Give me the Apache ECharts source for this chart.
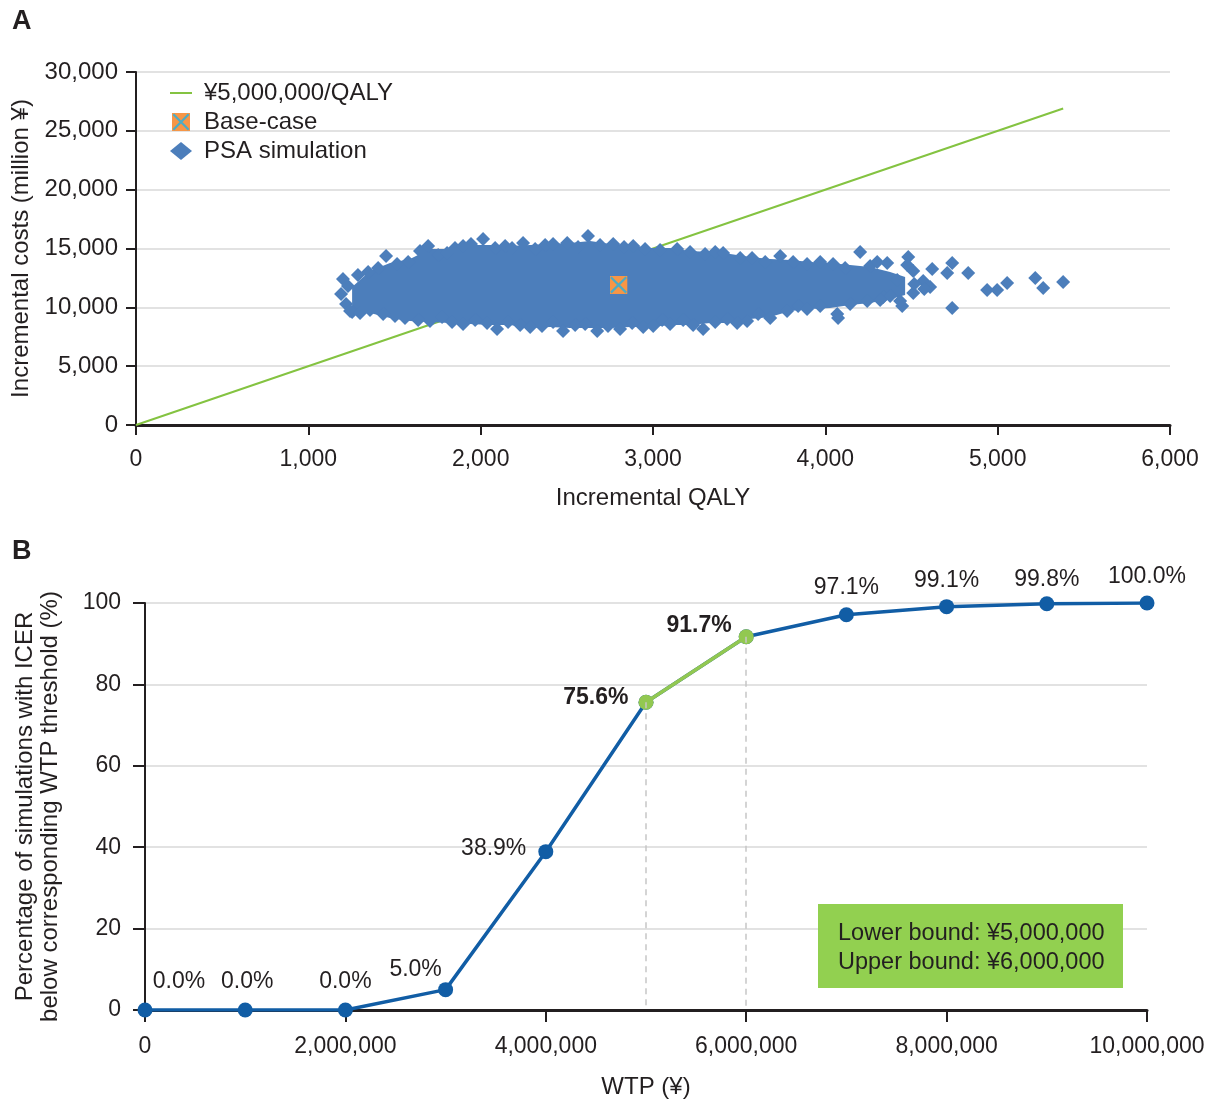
<!DOCTYPE html>
<html>
<head>
<meta charset="utf-8">
<title>PSA scatter and acceptability curve</title>
<script src="https://cdn.jsdelivr.net/npm/echarts@6/dist/echarts.min.js"></script>
<style>
  html, body { margin: 0; padding: 0; background: #fff; }
  #chart { width: 1211px; height: 1100px; }
</style>
</head>
<body>
<div id="chart"></div>
<script>
// ---- panel A data (incremental QALY, incremental cost in million yen) ----
// willingness-to-pay line, y = 5 x QALY
const wtpLine = [[0, 0], [5380, 26900]];
const baseCase = [2800, 11900];
// dense middle of the PSA cloud: lower / upper edge at a few QALY values
const coreQaly = [1254, 1358, 1474, 1590, 1706, 1822, 1939, 2055, 2171, 2287, 2403, 2519, 2635, 2751, 2867,
  2983, 3099, 3215, 3332, 3448, 3564, 3680, 3796, 3912, 4028, 4144, 4260, 4376, 4463];
const coreLow = [9690, 9520, 9100, 8840, 8760, 8670, 8590, 8500, 8500, 8250, 8330, 8250, 8250, 8250, 8330,
  8330, 8500, 8500, 8670, 8670, 9010, 9180, 9690, 9860, 9950, 10200, 10370, 10710, 11050];
const coreHigh = [11720, 13080, 13760, 14100, 14950, 14950, 15290, 15290, 15210, 15290, 15380, 15460, 15630, 15380, 15290,
  15040, 15040, 14780, 14700, 14530, 14270, 14100, 14020, 13850, 13760, 13590, 13420, 13000, 12570];
// simulations along the rim of the cloud and the outliers
const psaTop = [
  [1201, 12410], [1230, 11810], [1190, 11130], [1219, 10280], [1254, 9600],
  [1288, 12750], [1347, 13000], [1405, 13340], [1451, 14360], [1515, 13680], [1579, 13850], [1648, 14790],
  [1695, 15210], [1753, 14450], [1805, 14620], [1851, 15040], [1898, 15210], [1944, 15380], [2014, 15810],
  [2084, 15040], [2142, 15210], [2182, 15040], [2246, 15470], [2316, 14960], [2374, 15300], [2420, 15380],
  [2502, 15470], [2565, 15130], [2623, 16060], [2693, 15300], [2769, 15380], [2832, 15130], [2885, 15210],
  [2954, 14960], [3041, 14870], [3140, 14960], [3215, 14700], [3302, 14530], [3361, 14700], [3407, 14620],
  [3506, 14190], [3575, 14190], [3651, 13850], [3738, 14360], [3813, 13850], [3894, 13680], [3970, 13850],
  [4045, 13680], [4115, 13340], [4202, 14700], [4260, 13510], [4301, 13850], [4359, 13770], [4481, 14280],
  [4475, 13600], [4510, 13090], [4568, 12240], [4620, 13260], [4608, 11730], [4510, 11220], [4446, 10110],
  [4336, 10880], [4074, 9090], [4736, 9940], [4707, 12920], [4736, 13770], [4829, 12920], [4939, 11470],
  [4997, 11470], [5055, 12070], [5218, 12490], [5264, 11640], [5380, 12150], [4516, 11980], [4417, 12320],
  [4574, 11560]
];
const psaBottom = [
  [1242, 9690], [1300, 9520], [1358, 9770], [1434, 9430], [1503, 9260], [1561, 9090], [1637, 8920],
  [1706, 8840], [1776, 9180], [1834, 8750], [1898, 8580], [1968, 8920], [2037, 8670], [2095, 8160],
  [2159, 8750], [2229, 8500], [2287, 8330], [2356, 8410], [2420, 8750], [2478, 7990], [2548, 8500],
  [2606, 8580], [2676, 7990], [2739, 8410], [2809, 8160], [2879, 8670], [2943, 8330], [3001, 8410],
  [3053, 8920], [3099, 8580], [3175, 8920], [3233, 8500], [3291, 8160], [3361, 8750], [3430, 9010],
  [3488, 8670], [3546, 8840], [3610, 9430], [3680, 9090], [3778, 9690], [3842, 10110], [3894, 9860],
  [3970, 10110], [4069, 9430], [4144, 10280], [4243, 10540], [4318, 10620], [4376, 10960], [4434, 10540]
];

// ---- panel B data ----
const wtp = [0, 1000000, 2000000, 3000000, 4000000, 5000000, 6000000, 7000000, 8000000, 9000000, 10000000];
const pctBelow = [0.0, 0.0, 0.0, 5.0, 38.9, 75.6, 91.7, 97.1, 99.1, 99.8, 100.0];
const boundIdx = [5, 6]; // lower / upper bound of the threshold

// label placement for each point of panel B: [position, distance, offset]
const labelPlace = [
  ['top', 9, [34, 0]], ['top', 9, [2, 0]], ['top', 9, [0, 0]], ['top', 9, [-30, 8]],
  ['left', 12, [0, -3]], ['left', 10, [0, -5]], ['left', 7, [0, -11]],
  ['top', 8, [0, 0]], ['top', 7, [0, 0]], ['top', 5, [0, 0]], ['top', 7, [0, 0]]
];

const FONT = '"Liberation Sans", Arial, sans-serif';
const INK = '#231f20';
const BLUE = '#4C7EBB';
const DARKBLUE = '#115DA5';
const LIGHTGREEN = '#92C851';
const GRID = '#e2e2e2';

const baseIcon = 'image://data:image/svg+xml;utf8,' + encodeURIComponent(
  "<svg xmlns='http://www.w3.org/2000/svg' width='20' height='20' viewBox='0 0 20 20'>" +
  "<rect width='20' height='20' fill='#F79646'/>" +
  "<path d='M1.5 1.5L18.5 18.5M18.5 1.5L1.5 18.5' stroke='#4BACC6' stroke-width='2.4'/></svg>");

const thousands = v => v.toLocaleString('en-US');

function xAxisFor(grid, min, max, interval, name, gap, tick, margin) {
  return {
    gridIndex: grid, type: 'value', min: min, max: max, interval: interval,
    axisLine: { show: true, onZero: false, lineStyle: { color: INK, width: 3 } },
    axisTick: { show: true, length: tick, lineStyle: { color: INK, width: 2 } },
    axisLabel: { fontSize: 23, color: INK, fontFamily: FONT, margin: margin, formatter: thousands },
    splitLine: { show: false },
    name: name, nameLocation: 'middle', nameGap: gap,
    nameTextStyle: { fontSize: 24, color: INK, fontFamily: FONT }
  };
}
function yAxisFor(grid, min, max, interval, name, gap, tick, margin, lh, fs) {
  return {
    gridIndex: grid, type: 'value', min: min, max: max, interval: interval,
    axisLine: { show: true, onZero: false, lineStyle: { color: INK, width: 2 } },
    axisTick: { show: true, length: tick, lineStyle: { color: INK, width: 2 } },
    axisLabel: { fontSize: fs, color: INK, fontFamily: FONT, margin: margin, formatter: thousands },
    splitLine: { show: true, lineStyle: { color: GRID, width: 2 } },
    name: name, nameLocation: 'middle', nameGap: gap,
    nameTextStyle: { fontSize: 24, color: INK, fontFamily: FONT, lineHeight: lh }
  };
}

function pointLabel(i, show) {
  const p = labelPlace[i];
  return { show: show, position: p[0], distance: p[1], offset: p[2] };
}

// the solid middle of the cloud, drawn as one polygon through the axis scales
function renderCore(params, api) {
  if (params.dataIndex !== 0) return;
  const upper = coreQaly.map((q, i) => api.coord([q, coreHigh[i]]));
  const lower = coreQaly.map((q, i) => api.coord([q, coreLow[i]])).reverse();
  return {
    type: 'polygon',
    shape: { points: upper.concat(lower) },
    style: { fill: BLUE }
  };
}

const chart = echarts.init(document.getElementById('chart'));
chart.setOption({
  animation: false,
  backgroundColor: '#fff',
  textStyle: { fontFamily: FONT },
  grid: [
    { left: 136, top: 72, right: 41, bottom: 675, outerBoundsMode: 'none' },
    { left: 145, top: 603, right: 64, bottom: 90, outerBoundsMode: 'none' }
  ],
  xAxis: [
    xAxisFor(0, 0, 6000, 1000, 'Incremental QALY', 61, 10, 23),
    xAxisFor(1, 0, 10000000, 2000000, 'WTP (¥)', 65, 12, 25)
  ],
  yAxis: [
    yAxisFor(0, 0, 30000, 5000, 'Incremental costs (million ¥)', 102, 10, 18, 24, 24),
    yAxisFor(1, 0, 100, 20, 'Percentage of simulations with ICER\nbelow corresponding WTP threshold (%)', 82, 12, 24, 25, 23)
  ],
  legend: {
    orient: 'vertical', left: 165, top: 76,
    itemWidth: 22, itemHeight: 18, itemGap: 5, selectedMode: false,
    textStyle: { fontSize: 24, color: INK, fontFamily: FONT, padding: [0, 0, 0, 7] },
    data: [
      { name: '¥5,000,000/QALY', icon: 'path://M0,0H22V2H0Z', itemStyle: { color: '#84C341' } },
      { name: 'Base-case', icon: baseIcon },
      { name: 'PSA simulation', icon: 'diamond', itemStyle: { color: BLUE, opacity: 1 } }
    ]
  },
  series: [
    {
      name: '¥5,000,000/QALY', type: 'line', xAxisIndex: 0, yAxisIndex: 0,
      data: wtpLine, symbol: 'none', silent: true, z: 2,
      lineStyle: { color: '#84C341', width: 2 }, itemStyle: { color: '#84C341' }
    },
    {
      name: 'core', type: 'custom', xAxisIndex: 0, yAxisIndex: 0, silent: true, z: 3,
      data: [[coreQaly[0], coreLow[0]]], renderItem: renderCore
    },
    {
      name: 'PSA simulation', type: 'scatter', xAxisIndex: 0, yAxisIndex: 0, z: 4,
      data: psaTop.concat(psaBottom), symbol: 'diamond', symbolSize: 14,
      itemStyle: { color: BLUE, opacity: 1 }
    },
    {
      name: 'Base-case', type: 'scatter', xAxisIndex: 0, yAxisIndex: 0, z: 5,
      data: [baseCase], symbol: baseIcon, symbolSize: 18, itemStyle: { opacity: 1 }
    },
    {
      name: 'bounds', type: 'line', xAxisIndex: 1, yAxisIndex: 1, data: [], silent: true, z: 2,
      markLine: {
        silent: true, symbol: 'none', label: { show: false },
        lineStyle: { color: '#c6c6c6', type: [6, 5], width: 1.5 },
        data: boundIdx.map(i => [{ coord: [wtp[i], pctBelow[i]] }, { coord: [wtp[i], 0] }])
      }
    },
    {
      name: 'CEAC', type: 'line', xAxisIndex: 1, yAxisIndex: 1, z: 3,
      data: wtp.map((w, i) => ({ value: [w, pctBelow[i]], label: pointLabel(i, boundIdx.indexOf(i) < 0) })),
      symbol: 'circle', symbolSize: 15,
      lineStyle: { color: DARKBLUE, width: 3.5 }, itemStyle: { color: DARKBLUE },
      label: { fontSize: 23, color: INK, fontFamily: FONT, formatter: p => p.value[1].toFixed(1) + '%' }
    },
    {
      name: 'CEAC bounds', type: 'line', xAxisIndex: 1, yAxisIndex: 1, z: 4,
      data: boundIdx.map(i => ({ value: [wtp[i], pctBelow[i]], label: pointLabel(i, true) })),
      symbol: 'circle', symbolSize: 15,
      lineStyle: { color: LIGHTGREEN, width: 3.5 }, itemStyle: { color: LIGHTGREEN },
      label: { fontSize: 23, fontWeight: 'bold', color: INK, fontFamily: FONT, formatter: p => p.value[1].toFixed(1) + '%' }
    }
  ],
  graphic: [
    { type: 'text', left: 12, top: 8, z: 10, style: { text: 'A', font: 'bold 27px ' + FONT, fill: INK } },
    { type: 'text', left: 12, top: 538, z: 10, style: { text: 'B', font: 'bold 27px ' + FONT, fill: INK } },
    { type: 'rect', z: 10, shape: { x: 818, y: 904, width: 305, height: 84 }, style: { fill: '#92D050' } },
    {
      type: 'text', z: 11, x: 838, y: 919,
      style: { text: 'Lower bound: ¥5,000,000\nUpper bound: ¥6,000,000', font: '23.5px ' + FONT, fill: INK, lineHeight: 29, verticalAlign: 'top' }
    }
  ]
});
</script>
</body>
</html>
